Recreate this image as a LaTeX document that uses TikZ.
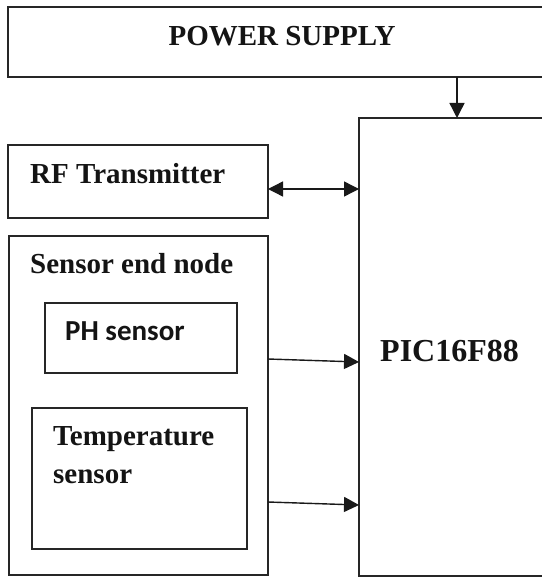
\documentclass[tikz,border=0pt]{standalone}
\usepackage{fontspec}
\setmainfont{Liberation Serif}
\newfontfamily\calfont{Carlito}
\usetikzlibrary{arrows.meta}
\begin{document}
\begin{tikzpicture}[x=1pt,y=-1pt,
  box/.style={draw=black!85,line width=1.4pt,rectangle,inner sep=0pt,outer sep=0pt},
  lbl/.style={inner sep=0pt,font=\fontsize{29}{34}\selectfont\bfseries,text=black!92},
  biglbl/.style={inner sep=0pt,font=\fontsize{32}{36}\selectfont\bfseries,text=black!92},
  sanslbl/.style={inner sep=0pt,font=\calfont\fontsize{29}{34}\selectfont\bfseries,text=black!92},
  arr/.style={line width=1.4pt,draw=black!90,-{Triangle[length=15pt,width=15pt]}},
  darr/.style={line width=1.4pt,draw=black!90,{Triangle[length=15pt,width=15pt]}-{Triangle[length=15pt,width=15pt]}}]
\useasboundingbox (0,0) rectangle (541,577);
\fill[white] (0,0) rectangle (541,577);
% boxes
\node[box,minimum width=537pt,minimum height=70pt] (power) at (276.5,42) {};
\node[box,minimum width=186pt,minimum height=458pt] (pic) at (452,347) {};
\node[box,minimum width=260pt,minimum height=73pt] (rf) at (138,181.5) {};
\node[box,minimum width=259pt,minimum height=339pt] (sensor) at (138.5,405.5) {};
\node[box,minimum width=192pt,minimum height=70pt] (ph) at (141,338) {};
\node[box,minimum width=215pt,minimum height=141pt] (temp) at (139.5,478.5) {};
% labels
\node[lbl] (powerlbl) at (282,36) {POWER SUPPLY};
\node[lbl,anchor=base west] (rflbl) at (30,183) {RF Transmitter};
\node[lbl,anchor=base west] (sensorlbl) at (30,273) {Sensor end node};
\node[sanslbl,anchor=base west] (phlbl) at (65,340) {PH sensor};
\node[biglbl,anchor=base west] (piclbl) at (380,361) {PIC16F88};
\node[lbl,anchor=base west] (templbl1) at (53,445) {Temperature};
\node[lbl,anchor=base west] (templbl2) at (53,483) {sensor};
% connector coordinates
\coordinate (pa) at (457,0);
\coordinate (ra) at (0,189);
\coordinate (p1) at (0,359);
\coordinate (p2) at (0,362);
\coordinate (t1) at (0,502);
\coordinate (t2) at (0,505);
% connectors
\draw[arr] (power.south -| pa) -- (pic.north -| pa);
\draw[darr] (rf.east |- ra) -- (pic.west |- ra);
\draw[arr] (sensor.east |- p1) -- (pic.west |- p2);
\draw[arr] (sensor.east |- t1) -- (pic.west |- t2);
\end{tikzpicture}
\end{document}
